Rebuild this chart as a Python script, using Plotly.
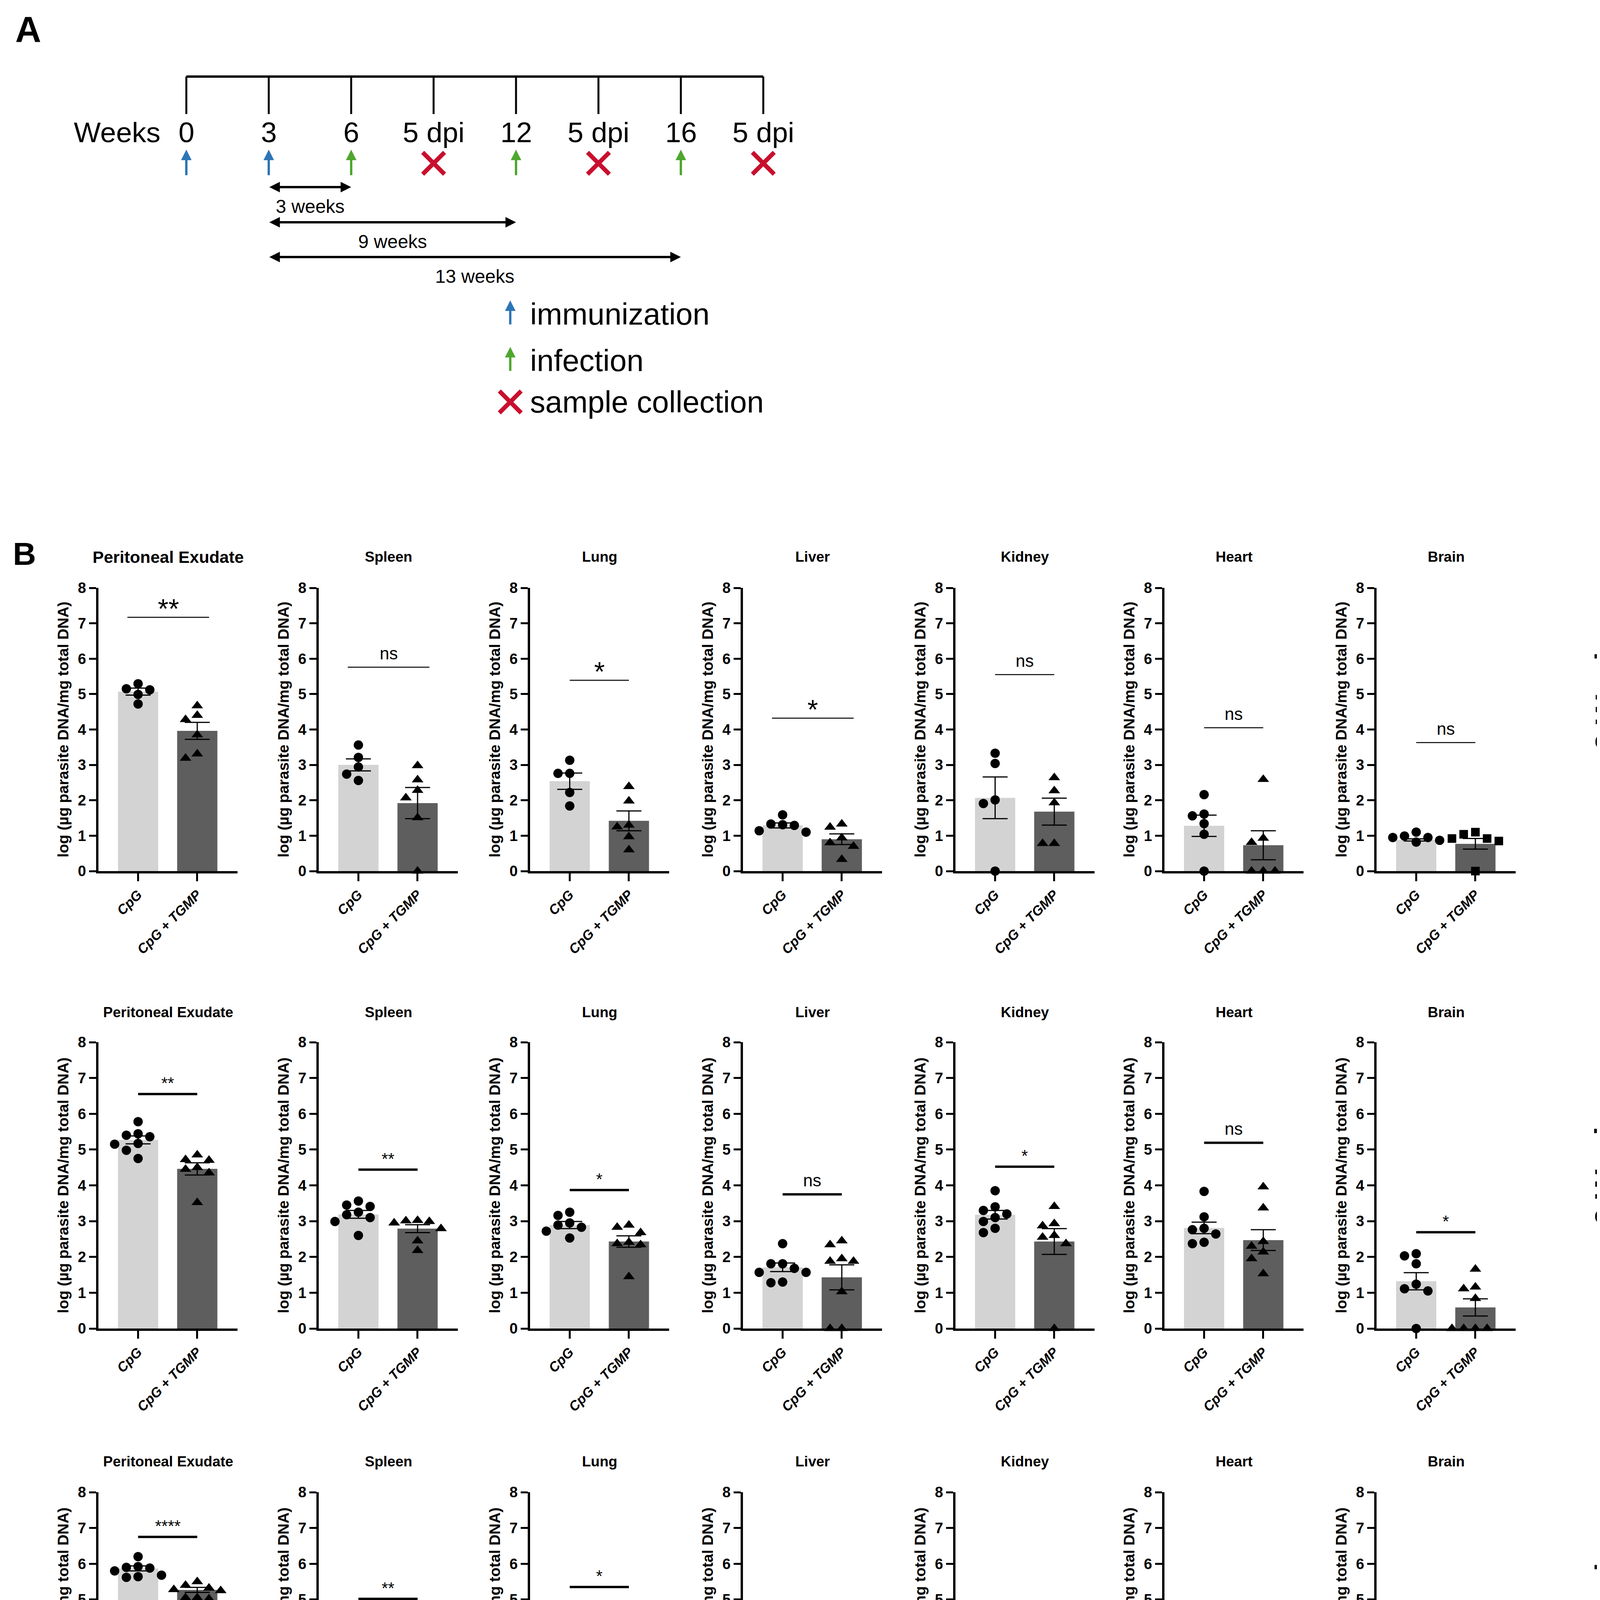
import plotly.graph_objects as go

# ---------------- panel A: immunisation timeline ----------------
timeline_labels = ["0", "3", "6", "5 dpi", "12", "5 dpi", "16", "5 dpi"]
timeline_events = ["immunization", "immunization", "infection", "sample collection",
                   "infection", "sample collection", "infection", "sample collection"]
span_labels = ["3 weeks", "9 weeks", "13 weeks"]
span_start = [1, 1, 1]
span_end = [2, 4, 6]
key_labels = ["immunization", "infection", "sample collection"]

# ---------------- panel B: log (µg parasite DNA / mg total DNA) ----------------
organs = ["Peritoneal Exudate", "Spleen", "Lung", "Liver", "Kidney", "Heart", "Brain"]
groups = ["CpG", "CpG + TGMP"]
row_labels = ["3 Weeks<br>+ 5 dpi", "9 Weeks<br>+ 5 dpi", "13 Weeks<br>+ 5 dpi"]

w3_cpg_mean = [5.07, 3.00, 2.54, 1.29, 2.07, 1.28, 0.88]
w3_cpg_sem = [0.10, 0.17, 0.23, 0.07, 0.59, 0.30, 0.03]
w3_tgmp_mean = [3.96, 1.92, 1.42, 0.90, 1.68, 0.73, 0.77]
w3_tgmp_sem = [0.24, 0.44, 0.28, 0.15, 0.38, 0.41, 0.15]
w3_cpg_pts = [[5.29, 5.15, 5.12, 4.99, 4.72], [3.56, 3.21, 2.94, 2.74, 2.56],
              [3.13, 2.76, 2.76, 2.22, 1.84], [1.59, 1.33, 1.31, 1.29, 1.14, 1.10],
              [3.33, 3.04, 2.01, 1.91, 0.0], [2.16, 1.61, 1.56, 1.34, 1.04, 0.0],
              [1.10, 0.99, 0.95, 0.95, 0.87, 0.82]]
w3_tgmp_pts = [[4.67, 4.40, 4.28, 3.85, 3.31, 3.19], [2.98, 2.58, 2.28, 2.07, 1.51, 0.0],
               [2.39, 1.98, 1.30, 1.25, 0.97, 0.60], [1.33, 1.24, 0.94, 0.80, 0.70, 0.33],
               [2.64, 2.27, 1.93, 0.78, 0.78], [2.59, 0.93, 0.81, 0.0, 0.0, 0.0],
               [1.10, 1.04, 0.92, 0.92, 0.85, 0.0]]
w3_sig = ["**", "ns", "*", "*", "ns", "ns", "ns"]
w3_sig_y = [7.17, 5.76, 5.39, 4.32, 5.55, 4.05, 3.63]

w9_cpg_mean = [5.27, 3.19, 2.89, 1.71, 3.18, 2.81, 1.32]
w9_cpg_sem = [0.11, 0.11, 0.10, 0.12, 0.12, 0.16, 0.24]
w9_tgmp_mean = [4.46, 2.79, 2.43, 1.43, 2.43, 2.47, 0.59]
w9_tgmp_sem = [0.17, 0.11, 0.16, 0.35, 0.36, 0.29, 0.24]
w9_cpg_pts = [[5.78, 5.44, 5.40, 5.36, 5.17, 5.15, 4.98, 4.75],
              [3.56, 3.45, 3.41, 3.25, 3.18, 3.10, 2.99, 2.60],
              [3.25, 3.16, 2.95, 2.89, 2.83, 2.72, 2.53],
              [2.37, 1.81, 1.81, 1.68, 1.57, 1.57, 1.30, 1.28],
              [3.85, 3.40, 3.30, 3.20, 3.10, 2.99, 2.80, 2.68],
              [3.83, 3.12, 2.80, 2.76, 2.64, 2.41, 2.37],
              [2.09, 2.03, 1.81, 1.24, 1.11, 1.05, 0.0]]
w9_tgmp_pts = [[4.85, 4.72, 4.70, 4.50, 4.45, 4.35, 3.52],
               [3.02, 3.01, 2.99, 2.95, 2.79, 2.45, 2.18],
               [2.89, 2.83, 2.68, 2.41, 2.37, 2.34, 1.45],
               [2.45, 2.34, 1.95, 1.88, 1.88, 1.03, 0.0, 0.0],
               [3.41, 2.93, 2.87, 2.60, 2.55, 2.37, 0.0],
               [3.96, 3.37, 2.43, 2.30, 2.14, 1.95, 1.53],
               [1.66, 1.16, 1.11, 0.84, 0.0, 0.0, 0.0, 0.0]]
w9_sig = ["**", "**", "*", "ns", "*", "ns", "*"]
w9_sig_y = [6.55, 4.44, 3.87, 3.75, 4.52, 5.19, 2.69]

w13_cpg_mean = [5.87, 4.14, 3.42, 3.14, 3.07, 2.37, 1.22]
w13_cpg_sem = [0.07, 0.12, 0.50, 0.12, 0.34, 0.09, 0.17]
w13_tgmp_mean = [5.27, 3.46, 2.96, 2.68, 3.38, 1.75, 1.05]
w13_tgmp_sem = [0.07, 0.14, 0.17, 0.11, 0.14, 0.10, 0.25]
w13_cpg_pts = [[6.20, 5.92, 5.90, 5.88, 5.80, 5.68, 5.64, 5.62],
               [4.46, 4.44, 4.32, 4.29, 4.19, 4.10, 4.01, 3.53],
               [4.85, 3.96, 3.92, 3.79, 3.55, 3.55, 0.0],
               [3.57, 3.50, 3.48, 3.28, 3.05, 2.96, 2.54],
               [3.84, 3.80, 3.66, 3.47, 3.17, 2.90, 0.88],
               [2.67, 2.62, 2.48, 2.33, 2.25, 2.12, 1.92],
               [2.00, 1.66, 1.45, 1.40, 1.03, 0.76, 0.73]]
w13_tgmp_pts = [[5.50, 5.40, 5.32, 5.28, 5.25, 5.05, 5.05, 5.02],
                [3.96, 3.86, 3.64, 3.55, 3.41, 3.30, 2.96, 2.82],
                [3.64, 3.35, 3.35, 3.00, 2.81, 2.81, 2.16],
                [3.14, 2.86, 2.86, 2.85, 2.57, 2.52, 2.10],
                [3.89, 3.59, 3.52, 3.44, 3.42, 3.38, 2.48],
                [2.25, 1.98, 1.87, 1.85, 1.72, 1.60, 1.58, 1.31],
                [1.77, 1.77, 1.41, 1.30, 0.95, 0.0, 0.0]]
w13_sig = ["****", "**", "*", "*", "ns", "***", "ns"]
w13_sig_y = [6.75, 5.02, 5.35, 4.00, 4.48, 3.32, 3.60]

# ---------------- panel C: IgG1 / IgG2a titres ----------------
c_titles = ["3 weeks + 5 dpi", "9 weeks + 5 dpi", "13 weeks + 5 dpi"]
c_ratio = ["0.91", "1.07", "0.85"]
c_cats = ["CpG", "CpG + TGMP", "CpG", "CpG + TGMP"]
igg1_cpg = [[0, 0, 0, 0, 0, 0, 0], [0, 0, 0, 0, 0, 0, 0, 0], [0, 0, 0, 0, 0, 0, 0, 0]]
igg2a_cpg = [[0, 0, 0, 0, 0, 0, 0], [0, 0, 0, 0, 0, 0, 0, 0], [0, 0, 0, 0, 0, 0, 0, 0]]
igg1_tgmp = [[5.87, 5.31, 5.31, 4.55, 4.43, 4.37, 4.16],
             [6.90, 6.77, 6.60, 6.45, 6.22, 6.12, 5.95, 5.85],
             [7.10, 6.95, 5.90, 5.86, 5.80, 5.62, 5.50, 5.48]]
igg2a_tgmp = [[5.41, 4.98, 4.82, 4.30, 4.21, 3.97, 3.97],
              [7.92, 7.67, 7.57, 7.52, 6.49, 6.12, 5.96, 5.81],
              [5.84, 5.60, 5.55, 5.37, 5.25, 4.97, 4.70, 4.41]]
igg1_tgmp_mean = [4.92, 6.43, 6.06]
igg1_tgmp_sd = [0.67, 0.35, 0.60]
igg2a_tgmp_mean = [4.47, 6.86, 5.19]
igg2a_tgmp_sd = [0.55, 0.72, 0.46]
c_sig = [["**", "**"], ["***", "***"], ["***", "***"]]
c_sig_y = [9.45, 9.55, 9.55]

# ---------------- panel D: IgA titres ----------------
d_titles = ["3 weeks + 5 dpi", "9 weeks + 5 dpi", "13 weeks + 5 dpi"]
iga_cpg = [[0.51, 0.50, 0.18, 0.15, 0, 0, 0], [0, 0, 0, 0, 0, 0, 0], [0, 0, 0, 0, 0, 0, 0, 0]]
iga_tgmp = [[1.38, 1.35, 1.23, 1.15, 1.05, 1.02, 0.81, 0.75],
            [4.21, 3.96, 3.66, 3.39, 3.05, 2.89, 2.66, 2.52],
            [1.65, 1.58, 1.50, 1.48, 1.42, 1.20, 1.15, 1.05]]
iga_cpg_mean = [0.20, 0.0, 0.0]
iga_cpg_sd = [0.22, 0.0, 0.0]
iga_tgmp_mean = [1.09, 3.29, 1.38]
iga_tgmp_sd = [0.20, 0.60, 0.20]
d_sig = ["**", "***", "***"]
d_sig_y = [6.89, 7.71, 6.70]

# ---------------- layout helpers ----------------
W, H = 4354, 5923
FONT = "Liberation Sans, Arial, Helvetica, sans-serif"
LIGHT, DARK, GREY = "#d3d3d3", "#5e5e5e", "#8c8c8c"
BLUE, GREEN, RED = "#2e75b6", "#4ea72e", "#c8102e"

fig = go.Figure()
layout = {}
annotations = []
n_axes = [0]


def add_axes(l, r, t, b, xr, yr, xstyle=None, ystyle=None):
    n_axes[0] += 1
    k = n_axes[0]
    s = "" if k == 1 else str(k)
    layout["xaxis" + s] = dict(domain=[l / W, r / W], range=xr, anchor="y" + s,
                               **(xstyle or dict(visible=False)))
    layout["yaxis" + s] = dict(domain=[1 - b / H, 1 - t / H], range=yr, anchor="x" + s,
                               **(ystyle or dict(visible=False)))
    return "x" + s, "y" + s


def swarm(vals, center, ppx, ppy, step, min_d):
    placed = []
    xs = [0.0] * len(vals)
    for i in sorted(range(len(vals)), key=lambda j: -vals[j]):
        for k in (0, -1, 1, -2, 2, -3, 3, -4, 4, -5, 5):
            ox = k * step
            if all((ox - px) ** 2 + ((vals[i] - v) * ppy) ** 2 >= min_d ** 2 for px, v in placed):
                break
        placed.append((ox, vals[i]))
        xs[i] = center + ox / ppx
    return xs


def text(t, x, y, xref="paper", yref="paper", size=36, bold=False, **kw):
    if bold:
        t = "<b>" + t + "</b>"
    kw.setdefault("xanchor", "center")
    kw.setdefault("yanchor", "middle")
    annotations.append(dict(text=t, x=x, y=y, xref=xref, yref=yref, showarrow=False,
                            font=dict(family=FONT, size=size, color="black"), **kw))


def ptext(t, px, py, **kw):
    text(t, px / W, 1 - py / H, **kw)


def sig(label, x0, x1, y, xr, yr, size, lw, color="black"):
    fig.add_trace(go.Scatter(x=[x0, x1], y=[y, y], mode="lines", xaxis=xr, yaxis=yr,
                             line=dict(color=color, width=lw), showlegend=False))
    shift = 38 - 0.24 * size if "*" in label else 32 + 0.08 * size
    text(label, (x0 + x1) / 2, y, xr, yr, size=size, yshift=shift)


def x_style(vals, labels):
    return dict(showline=True, linecolor="black", linewidth=6, ticks="outside", ticklen=20,
                tickwidth=5, tickcolor="black", showgrid=False, zeroline=False,
                tickmode="array", tickvals=vals, ticktext=labels, tickangle=-45,
                tickfont=dict(family=FONT, size=35, color="black", weight="bold", style="italic"))


def y_style(dtick, title, standoff, tsize=39):
    return dict(showline=True, linecolor="black", linewidth=6, ticks="outside", ticklen=18,
                tickwidth=5, tickcolor="black", showgrid=False, zeroline=False, dtick=dtick,
                tickfont=dict(family=FONT, size=38, color="black", weight="bold"),
                title=dict(text="<b>" + title + "</b>", standoff=standoff,
                           font=dict(family=FONT, size=tsize, color="black")))


def half_marker(xs, ys, xr, yr, symbol, size, fill, band_dy_px, ppy, band_len, band_w):
    fig.add_trace(go.Scatter(x=xs, y=ys, mode="markers", xaxis=xr, yaxis=yr, cliponaxis=False,
                             marker=dict(symbol=symbol, size=size, color=fill,
                                         line=dict(color=fill, width=2)), showlegend=False))
    fig.add_trace(go.Scatter(x=xs, y=[v + band_dy_px / ppy for v in ys], mode="markers",
                             xaxis=xr, yaxis=yr, cliponaxis=False,
                             marker=dict(symbol="line-ew", size=band_len,
                                         line=dict(color="white", width=band_w)),
                             showlegend=False))


def mean_sd(x, m, sd, xr, yr, whisker_color, lower=None):
    fig.add_trace(go.Scatter(x=[x], y=[m], mode="markers", xaxis=xr, yaxis=yr, cliponaxis=False,
                             marker=dict(size=1, color="rgba(0,0,0,0)"),
                             error_y=dict(type="data", array=[sd],
                                          arrayminus=[sd if lower is None else lower],
                                          color=whisker_color, thickness=2.5, width=24),
                             showlegend=False))
    fig.add_trace(go.Scatter(x=[x], y=[m], mode="markers", xaxis=xr, yaxis=yr, cliponaxis=False,
                             marker=dict(symbol="line-ew", size=80,
                                         line=dict(color="black", width=5)),
                             showlegend=False))


# ---------------- panel A ----------------
A_PX = 211.0
xa, ya = add_axes(0, 2300, 0, 1100, [-469 / A_PX, (2300 - 469) / A_PX], [1100, 0])
n = len(timeline_labels)
fig.add_trace(go.Scatter(x=[0, n - 1], y=[188, 188], mode="lines", xaxis=xa, yaxis=ya,
                         line=dict(color="black", width=6), showlegend=False))
tx, ty = [], []
for i in range(n):
    tx += [i, i, None]
    ty += [188, 284, None]
fig.add_trace(go.Scatter(x=tx, y=ty, mode="lines", xaxis=xa, yaxis=ya,
                         line=dict(color="black", width=5), showlegend=False))
text("Weeks", -0.84, 330, xa, ya, size=73)
for i, lab in enumerate(timeline_labels):
    text(lab, i, 330, xa, ya, size=73)
ev_color = {"immunization": BLUE, "infection": GREEN}
xs_x = [i for i, e in enumerate(timeline_events) if e == "sample collection"]
for i, e in enumerate(timeline_events):
    if e in ev_color:
        annotations.append(dict(x=i, y=375, ax=i, ay=442, xref=xa, yref=ya, axref=xa, ayref=ya,
                                text="", showarrow=True, arrowhead=2, arrowsize=0.9,
                                arrowwidth=6, arrowcolor=ev_color[e]))
fig.add_trace(go.Scatter(x=xs_x, y=[410] * len(xs_x), mode="markers", xaxis=xa, yaxis=ya,
                         marker=dict(symbol="x-thin", size=56, line=dict(color=RED, width=11)),
                         showlegend=False))
for lab, s0, s1, yy in zip(span_labels, span_start, span_end, [471, 561, 650]):
    annotations.append(dict(x=s1, y=yy, ax=s0, ay=yy, xref=xa, yref=ya, axref=xa, ayref=ya,
                            text="", showarrow=True, arrowhead=2, arrowsize=0.9, arrowwidth=6,
                            arrowside="end+start", arrowcolor="black"))
    text(lab, (s0 + s1) / 2, yy + 49, xa, ya, size=48)
key_y = [796, 915, 1021]
for lab, yy in zip(key_labels, key_y):
    if lab in ev_color:
        annotations.append(dict(x=3.93, y=yy - 35, ax=3.93, ay=yy + 28, xref=xa, yref=ya,
                                axref=xa, ayref=ya, text="", showarrow=True, arrowhead=2,
                                arrowsize=0.9, arrowwidth=6, arrowcolor=ev_color[lab]))
    else:
        fig.add_trace(go.Scatter(x=[3.93], y=[yy], mode="markers", xaxis=xa, yaxis=ya,
                                 marker=dict(symbol="x-thin", size=56,
                                             line=dict(color=RED, width=11)),
                                 showlegend=False))
    text(lab, 4.16, yy, xa, ya, size=78, xanchor="left")

# ---------------- panel B ----------------
B_LEFT = [244, 808, 1349, 1894, 2438, 2973, 3516]
B_W = 356
B_TOP = [1497, 2660, 3812]
B_BOT = [2222, 3393, 4545]
B_TITLE_Y = [1418, 2583, 3733]
B_LABEL_Y = [1754, 2969, 4108]
B_XR = [-0.67, 1.68]
rows = [
    (w3_cpg_mean, w3_cpg_sem, w3_tgmp_mean, w3_tgmp_sem, w3_cpg_pts, w3_tgmp_pts, w3_sig, w3_sig_y),
    (w9_cpg_mean, w9_cpg_sem, w9_tgmp_mean, w9_tgmp_sem, w9_cpg_pts, w9_tgmp_pts, w9_sig, w9_sig_y),
    (w13_cpg_mean, w13_cpg_sem, w13_tgmp_mean, w13_tgmp_sem, w13_cpg_pts, w13_tgmp_pts,
     w13_sig, w13_sig_y),
]
ytitle = "log (µg parasite DNA/mg total DNA)"
for r, (cm, cs, tm, ts, cp, tp, sg, sy) in enumerate(rows):
    ppy = (B_BOT[r] - B_TOP[r]) / 8
    ppx = B_W / (B_XR[1] - B_XR[0])
    for c, organ in enumerate(organs):
        l = B_LEFT[c]
        xr, yr = add_axes(l, l + B_W, B_TOP[r], B_BOT[r], B_XR, [0, 8],
                          x_style([0, 1], groups), y_style(1, ytitle, 14))
        fig.add_trace(go.Bar(x=[0, 1], y=[cm[c], tm[c]], width=0.68, xaxis=xr, yaxis=yr,
                             marker=dict(color=[LIGHT, DARK], line=dict(width=0)),
                             error_y=dict(type="data", array=[cs[c], ts[c]], color="black",
                                          thickness=3, width=32),
                             showlegend=False))
        tsym = "square" if (r == 0 and organ == "Brain") else "triangle-up"
        for g, pts, sym, sz in ((0, cp[c], "circle", 24),
                                (1, tp[c], tsym, 22 if tsym == "square" else 26)):
            xs = swarm(pts, g, ppx, ppy, 30, 24)
            fig.add_trace(go.Scatter(x=xs, y=pts, mode="markers", xaxis=xr, yaxis=yr,
                                     cliponaxis=False,
                                     marker=dict(symbol=sym, size=sz, color="black"),
                                     showlegend=False))
        wide = r == 0 and c in (0, 1, 3)
        x0, x1 = (-0.18, 1.2) if wide else (0, 1)
        if r == 0:
            ssize = 70 if "*" in sg[c] else 44
        else:
            ssize = 42 if "*" in sg[c] else 44
        sig(sg[c], x0, x1, sy[c], xr, yr, size=ssize, lw=2.5 if r == 0 else 6)
        ptext(organ, l + B_W / 2, B_TITLE_Y[r], size=43 if (r == 0 and c == 0) else 37,
              bold=True)
    ptext(row_labels[r], 4156, B_LABEL_Y[r], size=80, bold=True, textangle=-90, align="left")

# ---------------- panel C ----------------
C_AX = [(245, 730, 5110, 5612, [-0.65, 3.69]), (926, 1422, 5121, 5616, [-0.82, 3.67]),
        (1637, 2118, 5123, 5617, [-0.67, 3.69])]
for p, (l, rgt, t, b, xrng) in enumerate(C_AX):
    xr, yr = add_axes(l, rgt, t, b, xrng, [0, 10], x_style([0, 1, 2, 3], c_cats),
                      y_style(2, "Log 10 IgG titre", 22, tsize=38))
    ppx = (rgt - l) / (xrng[1] - xrng[0])
    ppy = (b - t) / 10
    for g, pts, col in ((0, igg1_cpg[p], "black"), (2, igg2a_cpg[p], GREY)):
        xs = swarm(pts, g, ppx, ppy, 11, 11)
        fig.add_trace(go.Scatter(x=xs, y=pts, mode="markers", xaxis=xr, yaxis=yr, cliponaxis=False,
                                 marker=dict(symbol="circle", size=21, color=col),
                                 showlegend=False))
    for g, pts, col, m, sd in ((1, igg1_tgmp[p], "black", igg1_tgmp_mean[p], igg1_tgmp_sd[p]),
                               (3, igg2a_tgmp[p], GREY, igg2a_tgmp_mean[p], igg2a_tgmp_sd[p])):
        mean_sd(g, m, sd, xr, yr, col)
        xs = swarm(pts, g, ppx, ppy, 28, 16)
        half_marker(xs, pts, xr, yr, "square", 22, col, 5, ppy, 15, 8)
    sig(c_sig[p][0], 0, 1, c_sig_y[p], xr, yr, size=70, lw=2.5)
    sig(c_sig[p][1], 2, 3, c_sig_y[p], xr, yr, size=70, lw=2.5)
    ptext(c_ratio[p], (l + rgt) / 2, 5060, size=41)
    ptext(c_titles[p], (l + rgt) / 2, 5884, size=39, bold=True)

# legend for C
xl, yl = add_axes(2251, 2451, 5156, 5224, [0, 1], [0, 1])
fig.add_trace(go.Scatter(x=[0, 0], y=[1, 0], mode="markers+text", xaxis=xl, yaxis=yl,
                         cliponaxis=False, text=["    IgG1", "    IgG2a"],
                         textposition="middle right",
                         textfont=dict(family=FONT, size=38, color="black"),
                         marker=dict(symbol="circle", size=22, color=["black", GREY]),
                         showlegend=False))

# ---------------- panel D ----------------
D_AX = [(2784, 3112, 5092, 5600, [-0.67, 1.64]), (3379, 3710, 5092, 5600, [-0.70, 1.68]),
        (3977, 4302, 5094, 5598, [-0.67, 1.65])]
D_LABEL_Y = [5878, 5878, 5872]
for p, (l, rgt, t, b, xrng) in enumerate(D_AX):
    xr, yr = add_axes(l, rgt, t, b, xrng, [0, 10], x_style([0, 1], groups),
                      y_style(2, "Log 10 IgA titre", 22, tsize=38))
    ppx = (rgt - l) / (xrng[1] - xrng[0])
    ppy = (b - t) / 10
    if p == 0:
        mean_sd(0, iga_cpg_mean[p], iga_cpg_sd[p], xr, yr, "black", lower=iga_cpg_mean[p])
        xs = swarm(iga_cpg[p], 0, ppx, ppy, 30, 22)
        fig.add_trace(go.Scatter(x=xs, y=iga_cpg[p], mode="markers", xaxis=xr, yaxis=yr,
                                 cliponaxis=False,
                                 marker=dict(symbol="circle", size=21, color="black"),
                                 showlegend=False))
        mean_sd(1, iga_tgmp_mean[p], iga_tgmp_sd[p], xr, yr, "black")
        xs = swarm(iga_tgmp[p], 1, ppx, ppy, 28, 16)
        half_marker(xs, iga_tgmp[p], xr, yr, "square", 21, "black", 5, ppy, 14, 7)
        scol = "black"
    else:
        xs = swarm(iga_cpg[p], 0, ppx, ppy, 10, 10)
        fig.add_trace(go.Scatter(x=xs, y=iga_cpg[p], mode="markers", xaxis=xr, yaxis=yr,
                                 cliponaxis=False,
                                 marker=dict(symbol="circle", size=17, color="black"),
                                 showlegend=False))
        mean_sd(1, iga_tgmp_mean[p], iga_tgmp_sd[p], xr, yr, "black")
        xs = swarm(iga_tgmp[p], 1, ppx, ppy, 29, 18)
        half_marker(xs, iga_tgmp[p], xr, yr, "circle", 18, "black", -3, ppy, 10, 5)
        scol = GREY
    sig(d_sig[p], 0, 1, d_sig_y[p], xr, yr, size=70, lw=3, color=scol)
    ptext(d_titles[p], (l + rgt) / 2, D_LABEL_Y[p], size=39, bold=True)

# ---------------- panel letters ----------------
for letter, px, py, sz in (("A", 64, 67, 92), ("B", 55, 1409, 82), ("C", 70, 5061, 80),
                           ("D", 2557, 5061, 80)):
    ptext(letter, px, py, size=sz, bold=True)

fig.update_layout(width=W, height=H, margin=dict(l=0, r=0, t=0, b=0), autosize=False,
                  template="none", paper_bgcolor="white", plot_bgcolor="white",
                  showlegend=False, annotations=annotations, **layout)
fig.write_html("out.html")
